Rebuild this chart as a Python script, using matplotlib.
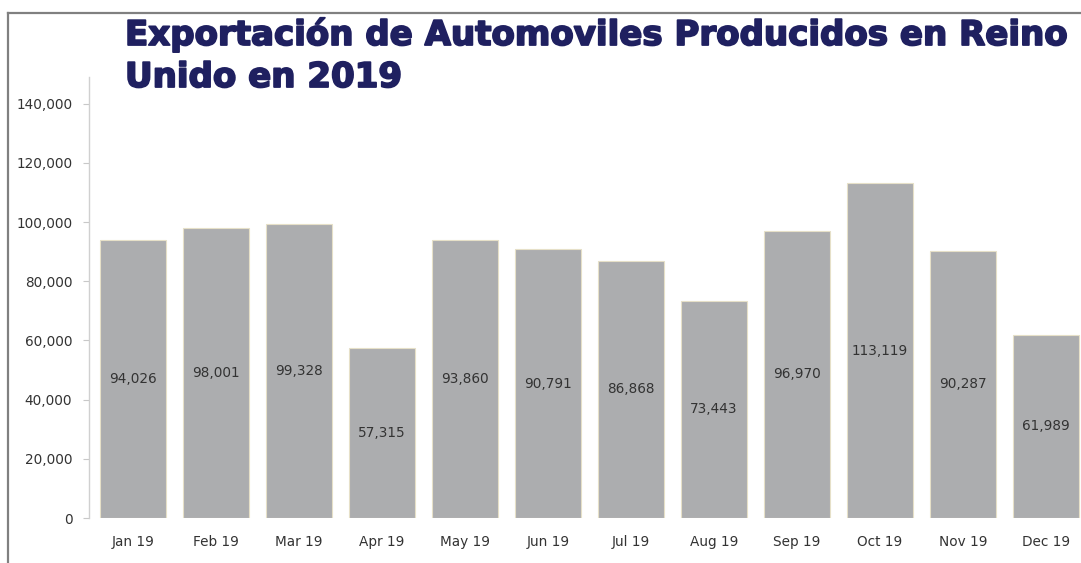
import matplotlib
matplotlib.use("Agg")
import matplotlib.pyplot as plt
import matplotlib.patheffects as pe
from matplotlib.lines import Line2D
from matplotlib.ticker import FuncFormatter

months = ["Jan 19", "Feb 19", "Mar 19", "Apr 19", "May 19", "Jun 19",
          "Jul 19", "Aug 19", "Sep 19", "Oct 19", "Nov 19", "Dec 19"]
exports = [94026, 98001, 99328, 57315, 93860, 90791,
           86868, 73443, 96970, 113119, 90287, 61989]
y_ticks = [0, 20000, 40000, 60000, 80000, 100000, 120000, 140000]

title_lines = ["Exportación de Automoviles Producidos en Reino", "Unido en 2019"]

W, H = 1081, 563
fig = plt.figure(figsize=(W / 100, H / 100), dpi=100)
ax = fig.add_axes([89 / W, 45 / H, 1 - 89 / W, (518 - 77) / H])

x = list(range(len(months)))
ax.bar(x, exports, width=0.79, color="#acadaf", edgecolor="#e6e0c8", linewidth=0.8)

for xi, v in zip(x, exports):
    ax.text(xi, v / 2, f"{v:,}", ha="center", va="center",
            fontsize=9.8, color="#333333")

ax.set_xlim(-0.53, 11.42)
ax.set_ylim(0, 149000)
ax.set_yticks(y_ticks)
ax.yaxis.set_major_formatter(FuncFormatter(lambda v, p: f"{int(v):,}"))
ax.set_xticks(x)
ax.set_xticklabels(months)

for s in ["top", "right", "bottom"]:
    ax.spines[s].set_visible(False)
ax.spines["left"].set_color("#d0d0d0")
ax.spines["left"].set_linewidth(1.0)
ax.tick_params(axis="y", length=4, color="#c8c8c8", labelsize=9.8,
               labelcolor="#333333", pad=8)
ax.tick_params(axis="x", length=0, labelsize=9.8, labelcolor="#333333", pad=12)

# frame lines (left and top)
fig.add_artist(Line2D([8 / W, 8 / W], [0, 1 - 13 / H],
                      transform=fig.transFigure, color="#808080", lw=1.6))
fig.add_artist(Line2D([8 / W, 1], [1 - 13 / H, 1 - 13 / H],
                      transform=fig.transFigure, color="#808080", lw=1.6))

# title, scaled so the first line spans the same width as the original
t_style = dict(ha="left", va="baseline", fontweight="bold",
               family="DejaVu Sans", color="#1f2060",
               path_effects=[pe.withStroke(linewidth=1.3, foreground="#1f2060")])
t1 = fig.text(125 / W, 1 - 45 / H, title_lines[0], fontsize=24, **t_style)
t2 = fig.text(125 / W, 1 - 87 / H, title_lines[1], fontsize=24, **t_style)
renderer = fig.canvas.get_renderer()
w = t1.get_window_extent(renderer).width
size = 24 * 943 / w
t1.set_fontsize(size)
t2.set_fontsize(size)

fig.savefig("out.png", dpi=100)
